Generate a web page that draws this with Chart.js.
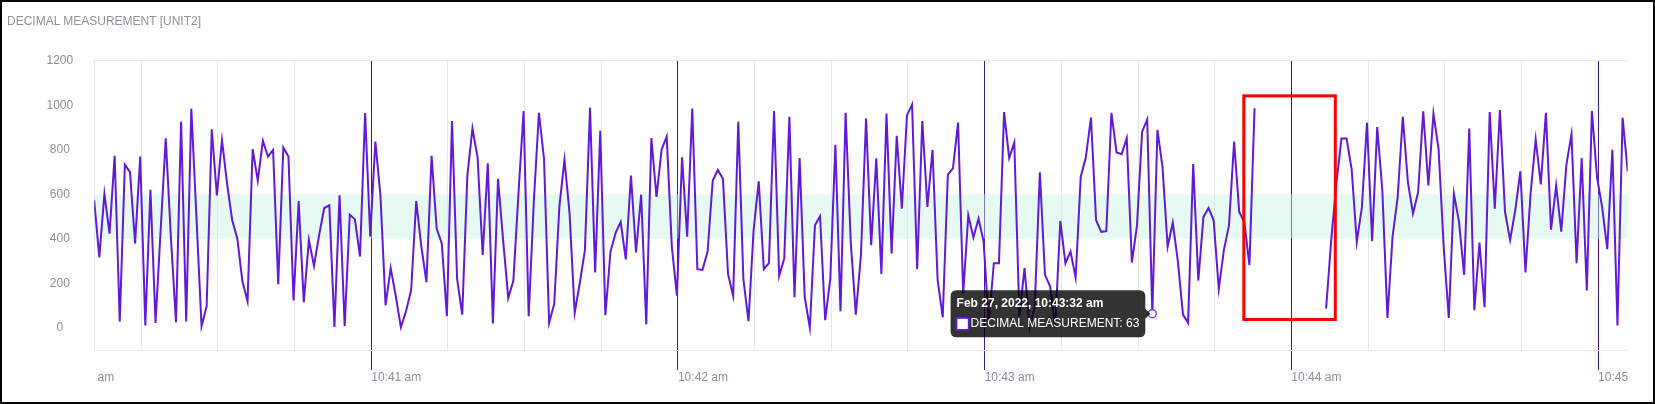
<!DOCTYPE html>
<html>
<head>
<meta charset="utf-8">
<script src="https://cdn.jsdelivr.net/npm/chart.js@4.4.1/dist/chart.umd.min.js"></script>
<style>
  html, body { margin: 0; padding: 0; background: #fff; }
  #page { position: relative; width: 1655px; height: 404px; overflow: hidden; }
  #title { position: absolute; left: 7px; top: 15px; font: 12px Arial, "Liberation Sans", sans-serif; line-height: 12px; color: #8f93a0; white-space: nowrap; }
  #clip { position: absolute; left: 0; top: 0; width: 1630px; height: 404px; overflow: hidden; }
  #frame { position: absolute; left: 0; top: 0; width: 1655px; height: 404px; box-sizing: border-box; border: 2px solid #000; pointer-events: none; }
</style>
</head>
<body>
<div id="page">
  <div id="clip"><canvas id="ChartCanvas" width="1655" height="404"></canvas></div>
  <div id="title"></div>
  <div id="frame"></div>
</div>
<script>
const chartTitle = 'DECIMAL MEASUREMENT [UNIT2]';
const seriesLabel = 'DECIMAL MEASUREMENT';

// samples every second, first one 5.8 s after 10:40:00 (Feb 27, 2022)
const startSecond = 5.8;
const values = [
  572, 316, 602, 423, 773, 27, 733, 699, 379, 769,
  10, 620, 22, 440, 851, 408, 25, 925, 28, 984,
  498, 7, 97, 892, 595, 843, 647, 483, 401, 208,
  119, 803, 661, 840, 769, 799, 196, 810, 769, 123,
  569, 115, 394, 278, 416, 538, 550, 4, 595, 7,
  508, 487, 320, 965, 410, 836, 595, 101, 268, 142,
  2, 74, 168, 569, 364, 205, 773, 446, 379, 52,
  929, 218, 59, 684, 896, 766, 327, 739, 19, 669,
  394, 134, 211, 602, 974, 52, 565, 966, 758, 22,
  108, 543, 755, 513, 67, 201, 349, 988, 248, 885,
  56, 341, 426, 475, 307, 684, 338, 598, 15, 852,
  588, 800, 859, 364, 144, 766, 409, 985, 263, 260,
  342, 661, 709, 669, 242, 144, 926, 218, 30, 439,
  658, 263, 290, 974, 233, 312, 948, 137, 763, 138,
  0, 460, 501, 34, 218, 822, 74, 966, 387, 59,
  327, 940, 371, 761, 242, 963, 334, 862, 535, 954,
  1003, 263, 929, 543, 799, 215, 47, 688, 716, 922,
  152, 505, 406, 490, 387, 20, 290, 290, 969, 763,
  833, 52, 268, 0, 95, 699, 238, 186, 3, 480,
  290, 342, 225, 679, 766, 944, 483, 431, 434, 966,
  788, 780, 852, 293, 460, 880, 936, 63, 889, 721,
  364, 472, 298, 59, 22, 736, 212, 498, 538, 483,
  174, 349, 460, 837, 520, 475, 281, 986,
  null, null, null, null, null, null, null, null, null, null, null, null, null,
  86, 394, 647, 850, 850, 712, 385, 542, 921,
  389, 902, 617, 44, 409, 587, 948, 654, 513, 609,
  973, 639, 962, 803, 364, 44, 602, 476, 238, 895,
  79, 383, 92, 969, 535, 978, 520, 394, 528, 703,
  248, 602, 846, 644, 966, 441, 639, 432, 731, 869,
  290, 762, 168, 974, 676, 542, 353, 800, 10, 944, 703
];

// x ticks in seconds after 10:40:00
const gridSeconds = [15, 30, 45, 60, 75, 90, 105, 120, 135, 150, 165, 180, 195, 210, 225, 240, 255, 270, 285, 300];
const minuteSeconds = [60, 120, 180, 240, 300];
const minuteLabels = ['10:41 am', '10:42 am', '10:43 am', '10:44 am', '10:45 am'];
const yTickValues = [0, 200, 400, 600, 800, 1000, 1200];
const normalBand = [400, 600];
const hoverIndex = 207;
const markBox = { x: [230.7, 248.6], y: [37, 1042] };

const monthNames = ['Jan', 'Feb', 'Mar', 'Apr', 'May', 'Jun', 'Jul', 'Aug', 'Sep', 'Oct', 'Nov', 'Dec'];

document.getElementById('title').textContent = chartTitle;

function fullTime(sec)
{
    const total = 10 * 3600 + 40 * 60 + Math.floor(sec);
    const h = Math.floor(total / 3600);
    const m = Math.floor(total / 60) % 60;
    const s = total % 60;
    const pad = n => String(n).padStart(2, '0');
    return monthNames[1] + ' 27, 2022, ' + (h % 12 || 12) + ':' + pad(m) + ':' + pad(s) + (h < 12 ? ' am' : ' pm');
}

const points = values.map((v, i) => ({ x: startSecond + i, y: v }));

const lineColor = '#6219dc';
const minuteColor = '#43188a';
const gridColor = '#e8e8ec';
const labelColor = '#8c8f9e';

// green band + red marker box
const extrasPlugin = {
    id: 'extras',
    beforeDatasetsDraw(chart) {
        const { ctx, chartArea, scales } = chart;
        const top = scales.y.getPixelForValue(normalBand[1]);
        const bottom = scales.y.getPixelForValue(normalBand[0]);
        ctx.save();
        ctx.fillStyle = 'rgba(200, 242, 228, 0.45)';
        ctx.fillRect(chartArea.left, top, chartArea.right - chartArea.left, bottom - top);
        ctx.restore();
    },
    afterDatasetsDraw(chart) {
        const { ctx, scales } = chart;
        const x1 = scales.x.getPixelForValue(markBox.x[0]);
        const x2 = scales.x.getPixelForValue(markBox.x[1]);
        const y1 = scales.y.getPixelForValue(markBox.y[1]);
        const y2 = scales.y.getPixelForValue(markBox.y[0]);
        ctx.save();
        ctx.strokeStyle = '#ff0000';
        ctx.lineWidth = 3;
        ctx.strokeRect(x1, y1, x2 - x1, y2 - y1);
        ctx.restore();
    }
};

const ctx = document.getElementById('ChartCanvas').getContext('2d');
const chart = new Chart(ctx, {
    type: 'line',
    data: {
        datasets: [{
            label: seriesLabel,
            data: points,
            borderColor: lineColor,
            backgroundColor: '#ffffff',
            borderWidth: 2,
            pointRadius: 0,
            pointHoverRadius: 4,
            pointHoverBorderWidth: 1.5,
            pointHoverBackgroundColor: '#ffffff',
            pointHoverBorderColor: '#7a45e6',
            tension: 0,
            spanGaps: false
        }]
    },
    options: {
        responsive: false,
        animation: false,
        events: [],
        layout: { padding: { left: 25.5, top: 60.7, right: 27.3, bottom: 19.6 } },
        plugins: {
            legend: { display: false },
            tooltip: {
                backgroundColor: 'rgba(0, 0, 0, 0.8)',
                titleFont: { size: 12, weight: 'bold' },
                bodyFont: { size: 12 },
                callbacks: {
                    title: items => fullTime(items[0].parsed.x),
                    label: item => seriesLabel + ': ' + item.parsed.y
                }
            }
        },
        scales: {
            x: {
                type: 'linear',
                min: startSecond,
                max: startSecond + values.length - 1,
                afterBuildTicks: scale => {
                    scale.ticks = [startSecond].concat(gridSeconds).map(v => ({ value: v }));
                },
                ticks: {
                    autoSkip: false,
                    maxRotation: 0,
                    align: 'start',
                    padding: 0,
                    color: labelColor,
                    font: { size: 12 },
                    callback: value => {
                        if (value === startSecond) return ' am';
                        const k = minuteSeconds.indexOf(value);
                        return k >= 0 ? minuteLabels[k] : '';
                    }
                },
                grid: {
                    tickLength: 20,
                    lineWidth: 1,
                    color: c => (c.tick && minuteSeconds.includes(c.tick.value)) ? minuteColor : gridColor,
                    tickColor: c => (c.tick && minuteSeconds.includes(c.tick.value)) ? minuteColor : 'rgba(0,0,0,0)'
                },
                border: { color: gridColor }
            },
            y: {
                min: -100,
                max: 1200,
                afterBuildTicks: scale => {
                    scale.ticks = yTickValues.map(v => ({ value: v }));
                },
                ticks: {
                    crossAlign: 'center',
                    padding: 21,
                    color: labelColor,
                    font: { size: 12 },
                    callback: value => String(value)
                },
                grid: {
                    drawTicks: false,
                    color: c => (c.tick && c.tick.value === 1200) ? gridColor : 'rgba(0,0,0,0)'
                },
                border: { color: gridColor }
            }
        }
    },
    plugins: [extrasPlugin]
});

const active = [{ datasetIndex: 0, index: hoverIndex }];
const hoverPoint = chart.getDatasetMeta(0).data[hoverIndex];
chart.setActiveElements(active);
chart.tooltip.setActiveElements(active, { x: hoverPoint.x, y: hoverPoint.y });
chart.update();
</script>
</body>
</html>
